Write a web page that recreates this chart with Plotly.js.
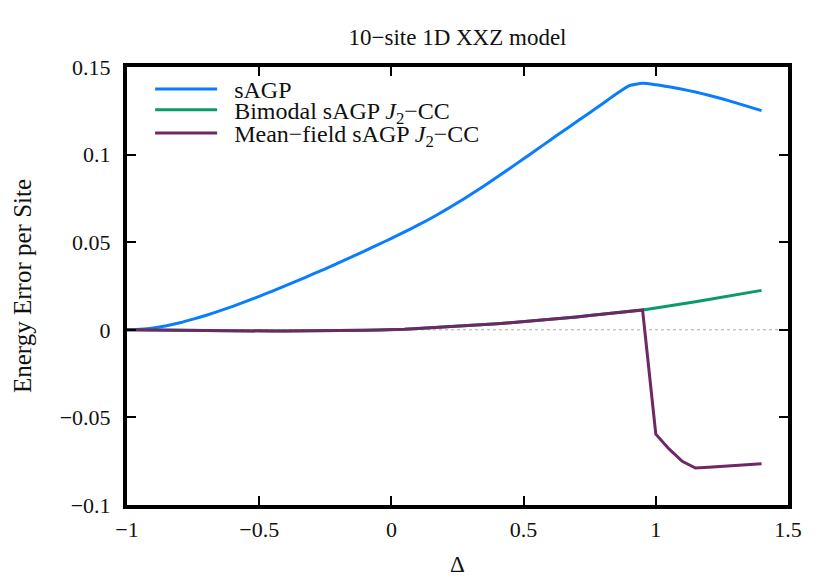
<!DOCTYPE html>
<html>
<head>
<meta charset="utf-8">
<script src="https://cdn.plot.ly/plotly-3.0.1.min.js"></script>
<style>
  body { margin: 0; background: #fff; }
  #chart { width: 830px; height: 580px; }
</style>
</head>
<body>
<div id="chart"></div>
<script>
// Delta grid, -1 to 1.4 in steps of 0.05
const delta = [
    -1.00, -0.95, -0.90, -0.85, -0.80, -0.75, -0.70, -0.65, -0.60, -0.55,
    -0.50, -0.45, -0.40, -0.35, -0.30, -0.25, -0.20, -0.15, -0.10, -0.05,
     0.00,  0.05,  0.10,  0.15,  0.20,  0.25,  0.30,  0.35,  0.40,  0.45,
     0.50,  0.55,  0.60,  0.65,  0.70,  0.75,  0.80,  0.85,  0.90,  0.95,
     1.00,  1.05,  1.10,  1.15,  1.20,  1.25,  1.30,  1.35,  1.40
];

// energy error per site
const sagp = [
    0.0000, 0.0003, 0.0010, 0.0023, 0.0040, 0.0061, 0.0083, 0.0108, 0.0134, 0.0162,
    0.0191, 0.0221, 0.0252, 0.0283, 0.0316, 0.0348, 0.0382, 0.0416, 0.0451, 0.0486,
    0.0522, 0.0559, 0.0597, 0.0637, 0.0680, 0.0725, 0.0772, 0.0821, 0.0872, 0.0924,
    0.0976, 0.1029, 0.1082, 0.1135, 0.1187, 0.1239, 0.1292, 0.1346, 0.1394, 0.1407,
    0.1399, 0.1387, 0.1373, 0.1357, 0.1339, 0.1319, 0.1297, 0.1274, 0.1251
];

const bimodal = [
     0.0000, -0.0001, -0.0002, -0.0003, -0.0004, -0.0005, -0.0006, -0.0006, -0.0007, -0.0007,
    -0.0007, -0.0007, -0.0007, -0.0007, -0.0007, -0.0006, -0.0005, -0.0004, -0.0003, -0.0001,
     0.0000,  0.0003,  0.0007,  0.0011,  0.0015,  0.0019,  0.0024,  0.0029,  0.0034,  0.0040,
     0.0046,  0.0052,  0.0059,  0.0066,  0.0073,  0.0081,  0.0088,  0.0096,  0.0105,  0.0113,
     0.0124,  0.0135,  0.0147,  0.0160,  0.0173,  0.0185,  0.0198,  0.0212,  0.0225
];

const meanField = [
     0.0000, -0.0001, -0.0002, -0.0003, -0.0004, -0.0005, -0.0006, -0.0006, -0.0007, -0.0007,
    -0.0007, -0.0007, -0.0007, -0.0007, -0.0007, -0.0006, -0.0005, -0.0004, -0.0003, -0.0001,
     0.0000,  0.0003,  0.0007,  0.0011,  0.0015,  0.0019,  0.0024,  0.0029,  0.0034,  0.0040,
     0.0046,  0.0052,  0.0059,  0.0066,  0.0073,  0.0081,  0.0088,  0.0096,  0.0105,  0.0113,
    -0.0596, -0.0680, -0.0751, -0.0789, -0.0784, -0.0779, -0.0774, -0.0769, -0.0764
];

const seriesNames = [
    '\u2002sAGP',
    '\u2002Bimodal sAGP <i>J</i><sub>2</sub>\u2212CC',
    '\u2002Mean\u2212field sAGP <i>J</i><sub>2</sub>\u2212CC'
];
const seriesColors = ['#0a7dff', '#0a9a6c', '#6e2866'];
// one legend box per entry so the rows can sit as tight as in the original
const legendIds = ['legend2', 'legend3', 'legend4'];
const legendY = [1.0, 0.953, 0.900];

const serif = 'Liberation Serif, Times New Roman, serif';

const traces = [sagp, bimodal, meanField].map((ys, i) => ({
    x: delta,
    y: ys,
    mode: 'lines',
    type: 'scatter',
    name: seriesNames[i],
    legend: legendIds[i],
    showlegend: true,
    line: {color: seriesColors[i], width: 3, shape: i === 0 ? 'spline' : 'linear', smoothing: 0.5}
}));

const axisCommon = {
    showgrid: false,
    zeroline: false,
    showline: true,
    linecolor: '#000',
    linewidth: 4,
    mirror: 'ticks',
    ticks: 'inside',
    ticklen: 9,
    tickwidth: 2,
    tickcolor: '#000',
    tickfont: {family: serif, size: 22, color: '#111'}
};

const layout = {
    width: 830,
    height: 580,
    margin: {l: 127, r: 42, t: 67, b: 75},
    paper_bgcolor: '#fff',
    plot_bgcolor: '#fff',
    font: {family: serif, color: '#111'},
    showlegend: true,
    title: {
        text: '10\u2212site 1D XXZ model',
        font: {family: serif, size: 23, color: '#111'},
        xref: 'paper', x: 0.5, xanchor: 'center',
        yref: 'container', y: 0.937, yanchor: 'middle'
    },
    xaxis: Object.assign({}, axisCommon, {
        range: [-1, 1.5],
        dtick: 0.5,
        ticklabelstandoff: 2,
        title: {text: '\u0394', font: {family: serif, size: 23}, standoff: 15}
    }),
    yaxis: Object.assign({}, axisCommon, {
        range: [-0.1, 0.15],
        dtick: 0.05,
        ticklabelstandoff: 8,
        title: {text: 'Energy Error per Site', font: {family: serif, size: 25}, standoff: 22}
    }),
    shapes: [{
        type: 'line', xref: 'paper', yref: 'y',
        x0: 0, x1: 1, y0: 0, y1: 0,
        line: {color: '#aaa', width: 1, dash: 'dot'},
        layer: 'below'
    }]
};

legendIds.forEach((id, i) => {
    layout[id] = {
        visible: true,
        x: 0.035, y: legendY[i], xanchor: 'left', yanchor: 'top',
        bgcolor: 'rgba(0,0,0,0)',
        font: {family: serif, size: 24, color: '#111'},
        itemwidth: 62
    };
});

Plotly.newPlot('chart', traces, layout, {displayModeBar: false});
</script>
</body>
</html>
